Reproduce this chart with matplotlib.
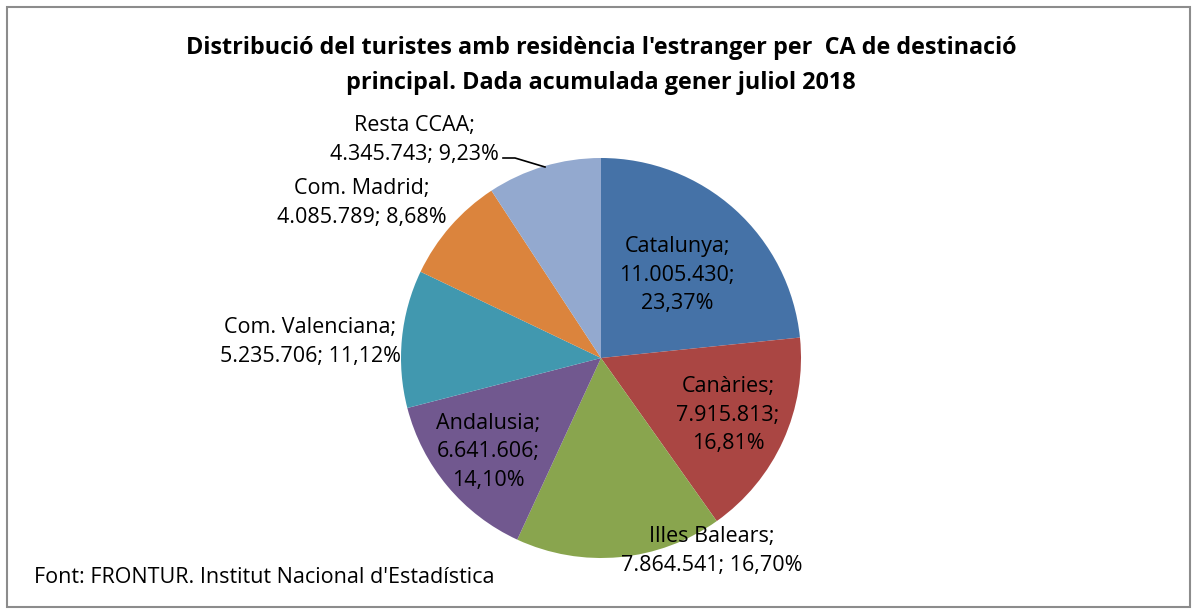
import numpy as np
import matplotlib
matplotlib.use("Agg")
from matplotlib import pyplot as plt
from matplotlib.patches import Rectangle

plt.rcParams["font.family"] = ["Open Sans", "DejaVu Sans"]

regions = ["Catalunya", "Canàries", "Illes Balears", "Andalusia",
           "Com. Valenciana", "Com. Madrid", "Resta CCAA"]
visitors = [11005430, 7915813, 7864541, 6641606, 5235706, 4085789, 4345743]
shares = ["23,37%", "16,81%", "16,70%", "14,10%", "11,12%", "8,68%", "9,23%"]
colors = ["#4572A7", "#AA4643", "#89A54E", "#71588F", "#4198AF", "#DB843D", "#93A9CF"]

title = ("Distribució del turistes amb residència l'estranger per  CA de destinació\n"
         "principal. Dada acumulada gener juliol 2018")
source = "Font: FRONTUR. Institut Nacional d'Estadística"


def fmt(n):
    return f"{n:,}".replace(",", ".")


# label layout: text position in pie units (radius = 1)
label_texts = [
    f"{regions[0]};\n{fmt(visitors[0])};\n{shares[0]}",
    f"{regions[1]};\n{fmt(visitors[1])};\n{shares[1]}",
    f"{regions[2]};\n{fmt(visitors[2])}; {shares[2]}",
    f"{regions[3]};\n{fmt(visitors[3])};\n{shares[3]}",
    f"{regions[4]};\n{fmt(visitors[4])}; {shares[4]}",
    f"{regions[5]};\n{fmt(visitors[5])}; {shares[5]}",
    f"{regions[6]};\n{fmt(visitors[6])}; {shares[6]}",
]
label_pos = [(0.38, 0.415), (0.635, -0.285), (0.555, -0.965), (-0.565, -0.47),
             (-1.455, 0.08), (-1.195, 0.775), (-0.935, 1.09)]

fig = plt.figure(figsize=(11.97, 6.13), dpi=100)
fig.patches.append(Rectangle((0.006, 0.01), 0.988, 0.978, transform=fig.transFigure,
                             fill=False, edgecolor="#8c8c8c", linewidth=1.5))

ax = fig.add_axes([401 / 1197, 55 / 613, 400 / 1197, 400 / 613])
ax.pie(visitors, colors=colors, startangle=90, counterclock=False, radius=1,
       wedgeprops=dict(linewidth=0))
ax.set_xlim(-1, 1)
ax.set_ylim(-1, 1)
ax.set_aspect("auto")
ax.axis("off")

for txt, (x, y) in zip(label_texts, label_pos):
    ax.text(x, y, txt, ha="center", va="center", fontsize=15.5, linespacing=1.45,
            color="#000000", clip_on=False)

# leader line for Resta CCAA
ax.plot([-0.49, -0.43, -0.28], [1.0, 1.0, 0.955], color="black", lw=1.2, clip_on=False)

fig.text(0.502, 0.893, title, ha="center", va="center", fontsize=16.8,
         fontweight="bold", linespacing=1.6)
fig.text(0.028, 0.058, source, ha="left", va="center", fontsize=15.5)

fig.savefig("out.png", dpi=100)
